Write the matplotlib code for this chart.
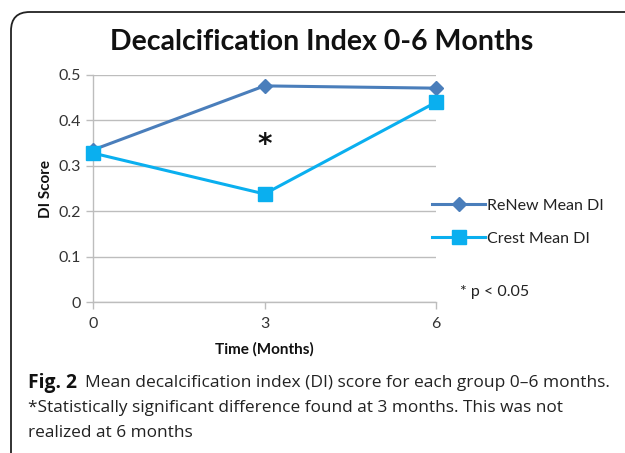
import matplotlib
matplotlib.use("Agg")
import matplotlib.pyplot as plt
from matplotlib.patches import FancyBboxPatch

months = ["0", "3", "6"]
renew = [0.335, 0.476, 0.471]
crest = [0.328, 0.238, 0.440]
yticks = [0, 0.1, 0.2, 0.3, 0.4, 0.5]
ytick_labels = ["0", "0.1", "0.2", "0.3", "0.4", "0.5"]

W, H = 625, 453
fig = plt.figure(figsize=(W / 100, H / 100), dpi=100)
fig.patch.set_facecolor("white")

# rounded frame
frame = FancyBboxPatch((11 / W, -40 / H), 700 / W, (H - 12 + 40) / H,
                       boxstyle="round,pad=0,rounding_size=0.03",
                       transform=fig.transFigure, fill=False,
                       edgecolor="#222222", linewidth=1.3, clip_on=False,
                       mutation_aspect=W / H)
fig.patches.append(frame)

cfont = "Lato"
ax = fig.add_axes([93 / W, 1 - 302 / H, (436 - 93) / W, (302 - 75) / H])
x = list(range(len(months)))
ax.plot(x, renew, color="#4A7EBB", lw=2.2, marker="D", ms=7.5,
        label="ReNew Mean DI", clip_on=False, zorder=3)
ax.plot(x, crest, color="#0AAFEF", lw=2.2, marker="s", ms=10,
        label="Crest Mean DI", clip_on=False, zorder=3)

ax.set_xlim(0, 2.0)
ax.set_ylim(0, 0.5)
ax.set_xticks(x)
ax.set_xticklabels(months)
ax.set_yticks(yticks)
ax.set_yticklabels(ytick_labels)
ax.grid(axis="y", color="#BDBDBD", lw=1.0)
ax.set_axisbelow(True)
for s in ["top", "right"]:
    ax.spines[s].set_visible(False)
for s in ["left", "bottom"]:
    ax.spines[s].set_color("#BDBDBD")
    ax.spines[s].set_linewidth(1.0)
ax.tick_params(axis="both", colors="#BDBDBD", length=5, width=1.0,
               labelcolor="#333333", labelsize=11.5)
ax.tick_params(axis="x", pad=6)
for lab in ax.get_xticklabels() + ax.get_yticklabels():
    lab.set_fontfamily(cfont)
ax.set_xlabel("Time (Months)", fontfamily=cfont, fontweight="bold",
              fontsize=11, color="#111111", labelpad=8)
ax.set_ylabel("DI Score", fontfamily=cfont, fontweight="bold",
              fontsize=11, color="#111111", labelpad=4)

ax.text(1, 0.345, "*", ha="center", va="center", fontsize=20,
        fontweight="bold", fontfamily="DejaVu Sans", color="#111111")

fig.text(322 / W, 1 - 42 / H, "Decalcification Index 0-6 Months",
         ha="center", va="center", fontfamily=cfont, fontweight="bold",
         fontsize=20.5, color="#111111")

leg = fig.legend(handles=ax.get_lines(), loc="upper left",
                 bbox_to_anchor=(418 / W, 1 - 184 / H), frameon=False,
                 prop={"family": cfont, "size": 11.5}, handlelength=3.3,
                 handletextpad=0.1, labelspacing=1.2, labelcolor="#222222")

fig.text(460 / W, 1 - 292 / H, "* p < 0.05", ha="left", va="center",
         fontfamily=cfont, fontsize=11.5, color="#222222")

# caption: size fitted so that line 2 spans the reference width
capfont = "Open Sans"
cap1 = "Mean decalcification index (DI) score for each group 0–6 months."
cap2 = "*Statistically significant difference found at 3 months. This was not"
cap3 = "realized at 6 months"
renderer = fig.canvas.get_renderer()
probe = fig.text(0, 0, cap2, fontfamily=capfont, fontsize=12)
w12 = probe.get_window_extent(renderer).width
probe.remove()
cs = 12 * 530 / w12

x0 = 28
fig.text(x0 / W, 1 - 383 / H, "Fig. 2", ha="left", va="center",
         fontfamily=capfont, fontweight="bold", fontsize=cs * 1.12, color="#111111")
fig.text(85 / W, 1 - 383 / H, cap1,
         ha="left", va="center", fontfamily=capfont, fontsize=cs * 1.01, color="#222222")
fig.text(x0 / W, 1 - 408 / H, cap2, ha="left", va="center",
         fontfamily=capfont, fontsize=cs, color="#222222")
fig.text(x0 / W, 1 - 433 / H, cap3, ha="left", va="center",
         fontfamily=capfont, fontsize=cs, color="#222222")

fig.savefig("out.png", dpi=100)
